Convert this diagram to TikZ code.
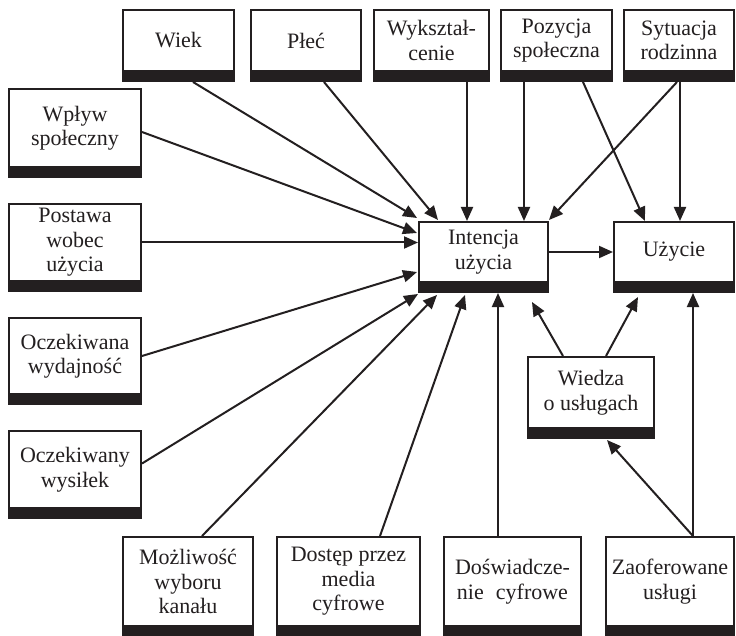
\documentclass[tikz,border=0pt]{standalone}
\usepackage{fontspec}
\setmainfont{Liberation Serif}
\usetikzlibrary{arrows.meta,calc}
\definecolor{ink}{HTML}{231F20}

\begin{document}
\begin{tikzpicture}[x=1pt,y=-1pt,
  card/.style={draw=ink, line width=2pt, fill=white, inner sep=0pt,
    align=center, text=ink, font=\fontsize{22}{24.5}\selectfont},
  link/.style={draw=ink, line width=2pt, -{Triangle[length=14pt,width=12pt]}},
]
\useasboundingbox (0,0) rectangle (736,636);

% top row
\node[card, minimum width=111pt, minimum height=61pt] (wiek)     at (178.5,40.5) {Wiek};
\node[card, minimum width=110pt, minimum height=61pt] (plec)     at (306,40.5)   {Płeć};
\node[card, minimum width=115pt, minimum height=61pt] (wyksz)    at (431.5,40.5) {Wykształ-\\cenie};
\node[card, minimum width=111pt, minimum height=61pt] (pozycja)  at (556.5,40.5) {Pozycja\\społeczna};
\node[card, minimum width=110pt, minimum height=61pt] (sytuacja) at (679,40.5)   {Sytuacja\\rodzinna};

% left column
\node[card, minimum width=132pt, minimum height=78pt] (wplyw)   at (75,128)   {Wpływ\\społeczny};
\node[card, minimum width=132pt, minimum height=77pt] (postawa) at (75,242.5) {Postawa\\wobec\\użycia};
\node[card, minimum width=132pt, minimum height=76pt] (oczwyd)  at (75,356)   {Oczekiwana\\wydajność};
\node[card, minimum width=132pt, minimum height=77pt] (oczwys)  at (75,469.5) {Oczekiwany\\wysiłek};

% centre
\node[card, minimum width=129pt, minimum height=60pt] (intencja) at (483.5,252) {Intencja\\użycia};
\node[card, minimum width=120pt, minimum height=60pt] (uzycie)   at (674,252)   {Użycie};
\node[card, minimum width=126pt, minimum height=71pt] (wiedza)   at (591,392.5) {Wiedza\\o usługach};

% bottom row
\node[card, minimum width=130pt, minimum height=89pt] (mozliwosc) at (188,581.5)   {Możliwość\\wyboru\\kanału};
\node[card, minimum width=143pt, minimum height=89pt] (dostep)    at (348.5,581.5) {Dostęp przez\\media\\cyfrowe};
\node[card, minimum width=137pt, minimum height=89pt] (doswiad)   at (512.5,581.5) {Doświadcze-\\nie\hspace{0.55em}cyfrowe};
\node[card, minimum width=128pt, minimum height=89pt] (zaofer)    at (670,581.5)   {Zaoferowane\\usługi};

% thick base band under every box
\foreach \n in {wiek,plec,wyksz,pozycja,sytuacja,wplyw,postawa,oczwyd,oczwys,
                intencja,uzycie,wiedza,mozliwosc,dostep,doswiad,zaofer}
  \fill[ink] (\n.south west) rectangle ([shift={(0,10)}]\n.south east);

% influences from the top row
\draw[link] ([shift={(14.5,10)}]wiek.south)    -- ([shift={(-1,-3)}]intencja.north west);
\draw[link] ([shift={(18,10)}]plec.south)      -- ([shift={(20,-1)}]intencja.north west);
\draw[link] ([shift={(35.5,10)}]wyksz.south)   -- ([shift={(-16.5,0)}]intencja.north);
\draw[link] ([shift={(-32.5,10)}]pozycja.south) -- ([shift={(40.5,0)}]intencja.north);
\draw[link] ([shift={(26.5,10)}]pozycja.south) -- ([shift={(-29,0)}]uzycie.north);
\draw[link] ([shift={(-2,10)}]sytuacja.south)  -- ([shift={(0,-1)}]intencja.north east);
\draw[link] ([shift={(1,10)}]sytuacja.south)   -- ([shift={(6,0)}]uzycie.north);

% influences from the left column
\draw[link] ([shift={(0,4)}]wplyw.east)   -- ([shift={(-1,12)}]intencja.north west);
\draw[link] (postawa.east)                -- (postawa.east -| intencja.west);
\draw[link] (oczwyd.east)                 -- ([shift={(-1,20)}]intencja.west);
\draw[link] ([shift={(0,-6)}]oczwys.east) -- ([shift={(0,11)}]intencja.south west);

% influences from the bottom row
\draw[link] ([shift={(14,0)}]mozliwosc.north) -- ([shift={(19,12)}]intencja.south west);
\draw[link] ([shift={(31.5,0)}]dostep.north)  -- ([shift={(-18.5,12)}]intencja.south);
\draw[link] ([shift={(-14.5,0)}]doswiad.north) -- ([shift={(14.5,10)}]intencja.south);
\draw[link] ([shift={(23,0)}]zaofer.north)    -- ([shift={(19,10)}]uzycie.south);
\draw[link] ([shift={(23,0)}]zaofer.north)    -- ([shift={(16,11)}]wiedza.south);

% knowledge of services
\draw[link] ([shift={(-28,0)}]wiedza.north) -- ([shift={(-17,19)}]intencja.south east);
\draw[link] ([shift={(15,0)}]wiedza.north)  -- ([shift={(25,14)}]uzycie.south west);

% intention leads to use
\draw[link] (intencja.east) -- (uzycie.west);
\end{tikzpicture}
\end{document}
